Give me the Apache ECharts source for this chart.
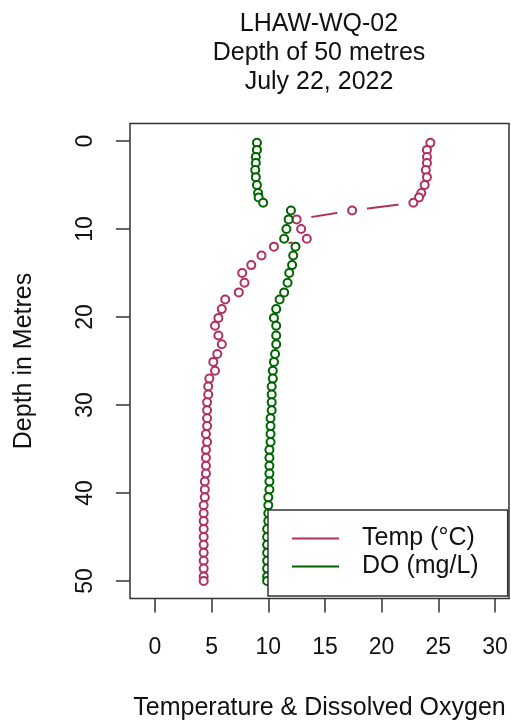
<!DOCTYPE html>
<html>
<head>
<meta charset="utf-8">
<script src="https://cdn.jsdelivr.net/npm/echarts@6/dist/echarts.min.js"></script>
<style>
html,body{margin:0;padding:0;background:#fff;}
#chart{width:511px;height:721px;}
</style>
</head>
<body>
<div id="chart"></div>
<script>
const titleLines = ['LHAW-WQ-02', 'Depth of 50 metres', 'July 22, 2022'];
const depths = [0.2, 1.0, 1.8, 2.5, 3.3, 4.1, 5.0, 5.9, 6.4, 7.0,
  7.9, 8.9, 10.0, 11.1, 12.0, 13.0, 14.1, 15.0, 16.1, 17.2, 18.0, 19.1, 20.1, 21.0, 22.1, 23.1, 24.2, 25.1,
  26.1, 27.0, 27.9, 28.8, 29.7, 30.6, 31.5, 32.4, 33.3, 34.2, 35.1, 36.0, 36.9, 37.8, 38.7, 39.6, 40.5,
  41.4, 42.3, 43.2, 44.1, 45.0, 45.9, 46.8, 47.7, 48.6, 49.5, 50.0];
const tempC = [24.3, 24.0, 24.0, 24.0, 23.9, 24.0, 23.8, 23.5, 23.3, 22.8,
  17.4, 12.5, 12.9, 13.4, 10.5, 9.4, 8.5, 7.7, 7.9, 7.4, 6.2, 5.9, 5.6, 5.3, 5.6, 5.9, 5.5, 5.15,
  5.3, 4.8, 4.7, 4.7, 4.6, 4.6, 4.6, 4.6, 4.5, 4.6, 4.5, 4.5, 4.5, 4.5, 4.4, 4.4, 4.4,
  4.3, 4.3, 4.3, 4.3, 4.3, 4.3, 4.3, 4.3, 4.3, 4.3, 4.3];
const doMgL = [9.0, 9.0, 8.9, 8.9, 8.85, 8.9, 9.0, 9.1, 9.15, 9.55,
  12.0, 11.8, 11.6, 11.4, 12.4, 12.2, 12.1, 11.85, 11.7, 11.4, 11.0, 10.7, 10.5, 10.7, 10.7, 10.7, 10.6, 10.5,
  10.4, 10.4, 10.3, 10.3, 10.3, 10.3, 10.2, 10.2, 10.2, 10.2, 10.1, 10.1, 10.1, 10.1, 10.1, 10.1, 10.0,
  10.0, 10.0, 10.0, 9.9, 9.9, 9.9, 9.9, 9.9, 9.9, 9.9, 9.9];
const xTicks = [0, 5, 10, 15, 20, 25, 30];
const yTicks = [0, 10, 20, 30, 40, 50];
const seriesNames = ['Temp (°C)', 'DO (mg/L)'];
const colors = ['#B03060', '#006400'];
const xName = 'Temperature & Dissolved Oxygen';
const yName = 'Depth in Metres';

const FONT = '"Liberation Sans", Arial, sans-serif';
const chart = echarts.init(document.getElementById('chart'), null, {renderer: 'canvas'});
function pairs(xs){ return xs.map((v,i)=>[v, depths[i]]); }
const option = {
  animation: false,
  backgroundColor: '#fff',
  textStyle: {fontFamily: FONT},
  graphic: [{
    type: 'text', x: 319, y: 10, z: 10,
    style: {text: titleLines.join('\n'), font: '25px ' + FONT, fill: '#111', textAlign: 'center', textVerticalAlign: 'top', lineHeight: 29}
  }],
  grid: {left: 130, top: 123.5, width: 379, height: 475, show: true, borderColor: '#333', borderWidth: 1.5,
    backgroundColor: 'transparent', outerBoundsMode: 'none', containLabel: false},
  xAxis: {
    type: 'value', min: -2.2, max: 31.24,
    name: xName, nameLocation: 'middle', nameGap: 97,
    nameTextStyle: {fontSize: 25, color: '#111', fontFamily: FONT},
    axisLine: {show: false, onZero: false},
    axisTick: {show: true, length: 14, lineStyle: {color: '#333', width: 1.5}, customValues: xTicks},
    axisLabel: {fontSize: 23, color: '#111', margin: 38, fontFamily: FONT, customValues: xTicks},
    splitLine: {show: false}
  },
  yAxis: {
    type: 'value', inverse: true, min: -2, max: 52,
    name: yName, nameLocation: 'middle', nameGap: 93, nameRotate: 90,
    nameTextStyle: {fontSize: 25, color: '#111', fontFamily: FONT},
    axisLine: {show: false, onZero: false},
    axisTick: {show: true, length: 14, lineStyle: {color: '#333', width: 1.5}, customValues: yTicks},
    axisLabel: {fontSize: 23, color: '#111', margin: 33, rotate: 90, fontFamily: FONT, customValues: yTicks},
    splitLine: {show: false}
  },
  legend: {
    orient: 'vertical', left: 268, top: 510,
    padding: [16, 29, 17, 24], itemGap: 3,
    backgroundColor: '#fff', borderColor: '#333', borderWidth: 1.5,
    itemWidth: 47, itemHeight: 2,
    textStyle: {fontSize: 25, color: '#111', fontFamily: FONT, padding: [0, 0, 0, 18]},
    data: seriesNames.map((n,i)=>({name: n, icon: 'rect', itemStyle: {color: colors[i], borderWidth: 0, opacity: 1}})),
    z: 20
  },
  series: [
    // connecting line for temperature (R type "b": gaps around the points)
    {type: 'line', data: pairs(tempC), showSymbol: false, silent: true,
     lineStyle: {color: colors[0], width: 2}, z: 1},
    // white gaps around temperature points
    {type: 'scatter', data: pairs(tempC), symbol: 'circle', symbolSize: 30, silent: true,
     itemStyle: {color: '#fff', opacity: 1}, z: 2},
    {name: seriesNames[0], type: 'scatter', data: pairs(tempC), symbol: 'emptyCircle', symbolSize: 8,
     itemStyle: {color: colors[0], borderColor: colors[0], borderWidth: 2.4, opacity: 1}, z: 3},
    {name: seriesNames[1], type: 'scatter', data: pairs(doMgL), symbol: 'emptyCircle', symbolSize: 8,
     itemStyle: {color: colors[1], borderColor: colors[1], borderWidth: 2.4, opacity: 1}, z: 3}
  ]
};
chart.setOption(option);
</script>
</body>
</html>
